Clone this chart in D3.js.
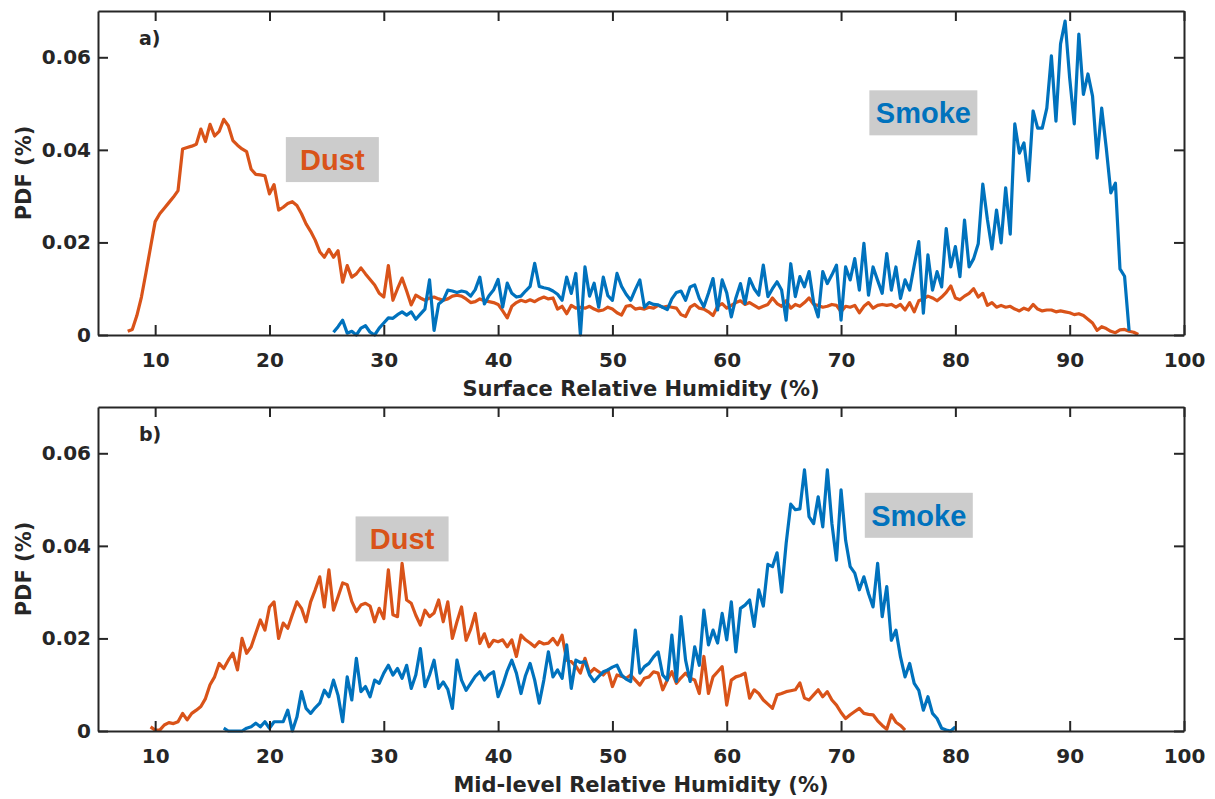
<!DOCTYPE html>
<html>
<head>
<meta charset="utf-8">
<script src="https://cdn.jsdelivr.net/npm/d3@7"></script>
<style>
  body { margin: 0; background: #fff; }
  svg { display: block; }
  .axis text { font-family: 'DejaVu Sans', sans-serif; font-weight: bold; font-size: 20px; fill: #262626; }
  .axis path, .axis line { stroke: #262626; stroke-width: 2; }
  .label { font-family: 'DejaVu Sans', sans-serif; font-weight: bold; fill: #262626; }
  .note { font-family: 'Liberation Sans', Arial, sans-serif; font-weight: bold; font-size: 29px; }
</style>
</head>
<body>
<div id="chart"></div>
<script>
// histogram bin width (%)
const binStep = 0.4

const xTicks = [10, 20, 30, 40, 50, 60, 70, 80, 90, 100]
const yTicks = [0, 0.02, 0.04, 0.06]

// a) surface RH, dust
const dustSurfaceStart = 7.6
const dustSurface = [
  0.0008, 0.0012, 0.0042, 0.0082, 0.0135, 0.0190, 0.0245, 0.0262, 0.0274, 0.0286,
  0.0298, 0.0312, 0.0402, 0.0405, 0.0408, 0.0412, 0.0445, 0.0418, 0.0455, 0.0430,
  0.0440, 0.0466, 0.0452, 0.0420, 0.0410, 0.0402, 0.0396, 0.0358, 0.0347, 0.0346,
  0.0344, 0.0305, 0.0325, 0.0270, 0.0276, 0.0284, 0.0288, 0.0280, 0.0262, 0.0240,
  0.0224, 0.0205, 0.0180, 0.0168, 0.0185, 0.0168, 0.0182, 0.0114, 0.0150, 0.0125,
  0.0132, 0.0145, 0.0132, 0.0120, 0.0108, 0.0090, 0.0082, 0.0150, 0.0075, 0.0100,
  0.0123, 0.0095, 0.0065, 0.0086, 0.0080, 0.0075, 0.0080, 0.0082, 0.0078, 0.0075,
  0.0078, 0.0084, 0.0086, 0.0084, 0.0078, 0.0070, 0.0072, 0.0078, 0.0074, 0.0072,
  0.0070, 0.0066, 0.0052, 0.0037, 0.0062, 0.0070, 0.0075, 0.0072, 0.0076, 0.0072,
  0.0078, 0.0082, 0.0078, 0.0080, 0.0056, 0.0062, 0.0046, 0.0064, 0.0058, 0.0060,
  0.0058, 0.0062, 0.0056, 0.0052, 0.0054, 0.0060, 0.0056, 0.0048, 0.0043, 0.0062,
  0.0064, 0.0056, 0.0058, 0.0056, 0.0060, 0.0058, 0.0064, 0.0060, 0.0062, 0.0060,
  0.0058, 0.0044, 0.0040, 0.0060, 0.0066, 0.0058, 0.0056, 0.0050, 0.0042, 0.0062,
  0.0068, 0.0058, 0.0064, 0.0070, 0.0074, 0.0066, 0.0070, 0.0064, 0.0058, 0.0062,
  0.0066, 0.0080, 0.0068, 0.0062, 0.0074, 0.0058, 0.0066, 0.0062, 0.0070, 0.0080,
  0.0066, 0.0064, 0.0060, 0.0062, 0.0066, 0.0064, 0.0050, 0.0062, 0.0060, 0.0064,
  0.0048, 0.0062, 0.0070, 0.0058, 0.0064, 0.0066, 0.0064, 0.0066, 0.0060, 0.0066,
  0.0054, 0.0070, 0.0050, 0.0074, 0.0078, 0.0084, 0.0080, 0.0074, 0.0082, 0.0092,
  0.0106, 0.0080, 0.0076, 0.0084, 0.0090, 0.0100, 0.0082, 0.0090, 0.0064, 0.0070,
  0.0060, 0.0064, 0.0060, 0.0062, 0.0056, 0.0052, 0.0058, 0.0054, 0.0066, 0.0056,
  0.0052, 0.0054, 0.0054, 0.0050, 0.0052, 0.0050, 0.0048, 0.0044, 0.0046, 0.0042,
  0.0034, 0.0026, 0.0010, 0.0018, 0.0014, 0.0008, 0.0005, 0.0011, 0.0012, 0.0008,
  0.0006, 0.0001
]

// a) surface RH, smoke
const smokeSurfaceStart = 25.6
const smokeSurface = [
  0.0006, 0.0018, 0.0032, 0.0004, 0.0008, 0.0000, 0.0015, 0.0020, 0.0006, 0.0000,
  0.0015, 0.0026, 0.0037, 0.0036, 0.0044, 0.0050, 0.0043, 0.0050, 0.0034, 0.0045,
  0.0056, 0.0119, 0.0010, 0.0067, 0.0075, 0.0097, 0.0095, 0.0092, 0.0095, 0.0093,
  0.0084, 0.0098, 0.0125, 0.0067, 0.0085, 0.0097, 0.0120, 0.0060, 0.0112, 0.0090,
  0.0082, 0.0084, 0.0095, 0.0105, 0.0155, 0.0105, 0.0102, 0.0100, 0.0095, 0.0088,
  0.0075, 0.0125, 0.0090, 0.0133, 0.0000, 0.0147, 0.0084, 0.0112, 0.0060, 0.0125,
  0.0085, 0.0075, 0.0133, 0.0105, 0.0088, 0.0075, 0.0098, 0.0119, 0.0060, 0.0070,
  0.0066, 0.0065, 0.0060, 0.0055, 0.0078, 0.0092, 0.0095, 0.0075, 0.0104, 0.0108,
  0.0079, 0.0061, 0.0090, 0.0122, 0.0054, 0.0119, 0.0091, 0.0039, 0.0080, 0.0111,
  0.0068, 0.0122, 0.0100, 0.0086, 0.0151, 0.0083, 0.0100, 0.0115, 0.0097, 0.0032,
  0.0154, 0.0083, 0.0126, 0.0104, 0.0137, 0.0070, 0.0039, 0.0137, 0.0111, 0.0130,
  0.0151, 0.0032, 0.0147, 0.0119, 0.0165, 0.0097, 0.0198, 0.0086, 0.0147, 0.0118,
  0.0090, 0.0176, 0.0097, 0.0147, 0.0079, 0.0119, 0.0097, 0.0150, 0.0202, 0.0047,
  0.0173, 0.0097, 0.0137, 0.0104, 0.0230, 0.0147, 0.0191, 0.0126, 0.0248, 0.0147,
  0.0165, 0.0197, 0.0326, 0.0250, 0.0186, 0.0270, 0.0199, 0.0318, 0.0218, 0.0456,
  0.0393, 0.0415, 0.0333, 0.0484, 0.0447, 0.0447, 0.0490, 0.0603, 0.0462, 0.0629,
  0.0678, 0.0555, 0.0456, 0.0650, 0.0520, 0.0564, 0.0516, 0.0382, 0.0490, 0.0404,
  0.0307, 0.0328, 0.0143, 0.0127, 0.0009
]

// b) mid-level RH, dust
const dustMidStart = 9.6
const dustMid = [
  0.0009, 0.0002, 0.0002, 0.0013, 0.0018, 0.0016, 0.0020, 0.0038, 0.0024, 0.0038,
  0.0045, 0.0053, 0.0070, 0.0100, 0.0117, 0.0146, 0.0135, 0.0153, 0.0168, 0.0132,
  0.0200, 0.0168, 0.0182, 0.0211, 0.0240, 0.0218, 0.0268, 0.0279, 0.0200, 0.0233,
  0.0222, 0.0251, 0.0279, 0.0265, 0.0236, 0.0279, 0.0305, 0.0333, 0.0268, 0.0348,
  0.0261, 0.0290, 0.0320, 0.0316, 0.0280, 0.0258, 0.0272, 0.0276, 0.0270, 0.0236,
  0.0265, 0.0243, 0.0348, 0.0251, 0.0247, 0.0362, 0.0283, 0.0276, 0.0250, 0.0229,
  0.0261, 0.0247, 0.0255, 0.0283, 0.0236, 0.0279, 0.0200, 0.0236, 0.0268, 0.0196,
  0.0220, 0.0254, 0.0189, 0.0210, 0.0182, 0.0196, 0.0193, 0.0197, 0.0182, 0.0197,
  0.0161, 0.0207, 0.0197, 0.0190, 0.0182, 0.0193, 0.0188, 0.0190, 0.0200, 0.0186,
  0.0207, 0.0153, 0.0150, 0.0140, 0.0125, 0.0157, 0.0125, 0.0135, 0.0128, 0.0121,
  0.0132, 0.0096, 0.0121, 0.0118, 0.0114, 0.0121, 0.0110, 0.0099, 0.0114, 0.0117,
  0.0128, 0.0125, 0.0089, 0.0110, 0.0128, 0.0103, 0.0115, 0.0125, 0.0114, 0.0110,
  0.0081, 0.0161, 0.0081, 0.0117, 0.0128, 0.0139, 0.0056, 0.0110, 0.0117, 0.0120,
  0.0125, 0.0071, 0.0089, 0.0081, 0.0067, 0.0058, 0.0049, 0.0078, 0.0081, 0.0085,
  0.0087, 0.0089, 0.0104, 0.0071, 0.0067, 0.0078, 0.0089, 0.0074, 0.0085, 0.0067,
  0.0056, 0.0040, 0.0027, 0.0035, 0.0042, 0.0049, 0.0038, 0.0036, 0.0035, 0.0022,
  0.0012, 0.0004, 0.0035, 0.0019, 0.0012, 0.0002
]

// b) mid-level RH, smoke
const smokeMidStart = 16.0
const smokeMid = [
  0.0006, 0.0000, 0.0000, 0.0000, 0.0000, 0.0006, 0.0009, 0.0017, 0.0009, 0.0020,
  0.0006, 0.0020, 0.0020, 0.0020, 0.0045, 0.0000, 0.0030, 0.0085, 0.0049, 0.0038,
  0.0050, 0.0060, 0.0088, 0.0074, 0.0110, 0.0077, 0.0020, 0.0117, 0.0067, 0.0157,
  0.0085, 0.0096, 0.0074, 0.0110, 0.0103, 0.0125, 0.0142, 0.0121, 0.0135, 0.0114,
  0.0142, 0.0092, 0.0121, 0.0178, 0.0096, 0.0121, 0.0153, 0.0092, 0.0106, 0.0090,
  0.0049, 0.0153, 0.0110, 0.0088, 0.0103, 0.0118, 0.0128, 0.0110, 0.0122, 0.0128,
  0.0074, 0.0099, 0.0130, 0.0153, 0.0125, 0.0081, 0.0120, 0.0146, 0.0110, 0.0060,
  0.0110, 0.0171, 0.0117, 0.0132, 0.0114, 0.0186, 0.0092, 0.0153, 0.0148, 0.0150,
  0.0121, 0.0107, 0.0118, 0.0128, 0.0132, 0.0138, 0.0142, 0.0121, 0.0112, 0.0107,
  0.0218, 0.0125, 0.0139, 0.0146, 0.0160, 0.0171, 0.0121, 0.0110, 0.0207, 0.0107,
  0.0247, 0.0153, 0.0107, 0.0182, 0.0142, 0.0261, 0.0186, 0.0218, 0.0190, 0.0254,
  0.0197, 0.0279, 0.0171, 0.0265, 0.0272, 0.0283, 0.0226, 0.0305, 0.0270, 0.0360,
  0.0355, 0.0385, 0.0300, 0.0406, 0.0490, 0.0478, 0.0480, 0.0564, 0.0463, 0.0448,
  0.0506, 0.0441, 0.0564, 0.0448, 0.0369, 0.0521, 0.0412, 0.0355, 0.0341, 0.0305,
  0.0333, 0.0297, 0.0268, 0.0362, 0.0247, 0.0312, 0.0196, 0.0218, 0.0160, 0.0117,
  0.0146, 0.0103, 0.0088, 0.0045, 0.0074, 0.0038, 0.0027, 0.0006, 0.0002, 0.0000, 0.0009
]

const dustColor = '#D95319'
const smokeColor = '#0072BD'

const panels = [
  {
    tag: 'a)',
    xLabel: 'Surface Relative Humidity (%)',
    series: [
      {start: dustSurfaceStart, values: dustSurface, color: dustColor},
      {start: smokeSurfaceStart, values: smokeSurface, color: smokeColor}
    ],
    notes: [
      {text: 'Dust', x: 25.5, y: 0.0379, w: 93, color: dustColor},
      {text: 'Smoke', x: 77.2, y: 0.0480, w: 108, color: smokeColor}
    ]
  },
  {
    tag: 'b)',
    xLabel: 'Mid-level Relative Humidity (%)',
    series: [
      {start: dustMidStart, values: dustMid, color: dustColor},
      {start: smokeMidStart, values: smokeMid, color: smokeColor}
    ],
    notes: [
      {text: 'Dust', x: 31.6, y: 0.0415, w: 93, color: dustColor},
      {text: 'Smoke', x: 76.8, y: 0.0466, w: 108, color: smokeColor}
    ]
  }
]

const width = 1215
const height = 799
const margin = {left: 98, right: 31}
const plotTops = [11, 407]
const plotH = 324

const svg = d3.select('#chart').append('svg')
  .attr('width', width)
  .attr('height', height)

svg.append('rect').attr('width', width).attr('height', height).attr('fill', '#fff')

const x = d3.scaleLinear().domain([5, 100]).range([margin.left, width - margin.right])
const yFmt = (d) => d === 0 ? '0' : d3.format('.2f')(d)

panels.forEach((p, pi) => {
  const top = plotTops[pi]
  const bottom = top + plotH
  const y = d3.scaleLinear().domain([0, 0.07]).range([bottom, top])
  const g = svg.append('g').attr('class', 'panel')

  // pdf curves, one point per bin
  const line = d3.line().x((d) => x(d[0])).y((d) => y(d[1]))

  p.series.forEach((s) => {
    const pts = s.values.map((v, i) => [s.start + i * binStep, v])
    g.append('path')
      .datum(pts)
      .attr('fill', 'none')
      .attr('stroke', s.color)
      .attr('stroke-width', 3.2)
      .attr('stroke-linejoin', 'round')
      .attr('d', line)
  })

  // axes box with inward ticks
  g.append('g').attr('class', 'axis')
    .attr('transform', 'translate(0,' + bottom + ')')
    .call(d3.axisBottom(x).tickValues(xTicks).tickSize(-10).tickSizeOuter(0).tickPadding(18))

  g.append('g').attr('class', 'axis')
    .attr('transform', 'translate(0,' + top + ')')
    .call(d3.axisTop(x).tickValues(xTicks).tickSize(-10).tickSizeOuter(0).tickFormat(''))

  g.append('g').attr('class', 'axis')
    .attr('transform', 'translate(' + margin.left + ',0)')
    .call(d3.axisLeft(y).tickValues(yTicks).tickSize(-10).tickSizeOuter(0).tickPadding(7).tickFormat(yFmt))

  g.append('g').attr('class', 'axis')
    .attr('transform', 'translate(' + (width - margin.right) + ',0)')
    .call(d3.axisRight(y).tickValues(yTicks).tickSize(-10).tickSizeOuter(0).tickFormat(''))

  // labels
  g.append('text').attr('class', 'label')
    .attr('x', (margin.left + width - margin.right) / 2)
    .attr('y', bottom + 61)
    .attr('text-anchor', 'middle')
    .style('font-size', '21px')
    .text(p.xLabel)

  g.append('text').attr('class', 'label')
    .attr('transform', 'translate(31,' + ((top + bottom) / 2) + ') rotate(-90)')
    .attr('text-anchor', 'middle')
    .style('font-size', '21px')
    .text('PDF (%)')

  g.append('text').attr('class', 'label')
    .attr('x', 139)
    .attr('y', top + 34)
    .style('font-size', '19px')
    .text(p.tag)

  // annotation boxes
  p.notes.forEach((n) => {
    const cx = x(n.x)
    const cy = y(n.y)
    g.append('rect')
      .attr('x', cx - n.w / 2)
      .attr('y', cy - 22.5)
      .attr('width', n.w)
      .attr('height', 45)
      .attr('fill', '#cccccc')
    g.append('text').attr('class', 'note')
      .attr('x', cx)
      .attr('y', cy + 10.5)
      .attr('text-anchor', 'middle')
      .attr('fill', n.color)
      .text(n.text)
  })
})
</script>
</body>
</html>
